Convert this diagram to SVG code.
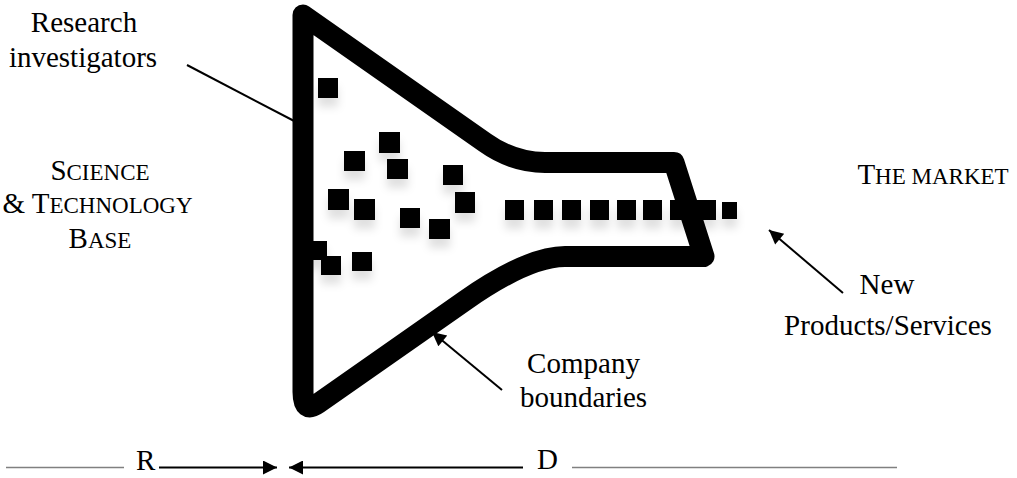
<svg xmlns="http://www.w3.org/2000/svg" width="1017" height="478" viewBox="0 0 1017 478">
<style>
.t{font-family:"Liberation Serif","Times New Roman",serif;font-size:29px;fill:#000}
.sc{font-size:23px}
.ln{stroke:#000;stroke-width:2;fill:none}
.gr{stroke:#808080;stroke-width:1.5;fill:none}
.fun{stroke:#000;stroke-width:21;fill:none;stroke-linejoin:round}
.sq{fill:#000}
</style>
<defs>
<marker id="ah" viewBox="0 0 10 10" refX="10" refY="5" markerUnits="userSpaceOnUse" markerWidth="16" markerHeight="14" orient="auto">
<path d="M0,0 L10,5 L0,10 z" fill="#000"/>
</marker>
<filter id="sh" x="-50%" y="-50%" width="200%" height="250%">
<feDropShadow dx="0" dy="9" stdDeviation="4" flood-color="#000" flood-opacity="0.12"/>
</filter>
</defs>
<g id="connectors">
<line class="ln" x1="187" y1="65" x2="298" y2="123"/>
<line class="ln" x1="502" y1="390" x2="432" y2="332" marker-end="url(#ah)"/>
<line class="ln" x1="843" y1="293" x2="769" y2="230" marker-end="url(#ah)"/>
<line class="ln" x1="159" y1="467.5" x2="277" y2="467.5" marker-end="url(#ah)"/>
<line class="ln" x1="523" y1="467.5" x2="289" y2="467.5" marker-end="url(#ah)"/>
<line class="gr" x1="6" y1="467.5" x2="124" y2="467.5"/>
<line class="gr" x1="572" y1="467.5" x2="897" y2="467.5"/>
</g>
<g id="funnel">
<path class="fun" d="M303,15 L485,142.5 Q513,162.5 545,162.5 L674,162.5 L704,256.5 L565,256.5 Q528,256.5 465,300.6 L318,403.5 Q303,414 303,392 Z"/>
</g>
<g id="squares" filter="url(#sh)">
<rect class="sq" x="318" y="78" width="20" height="20"/>
<rect class="sq" x="379" y="132" width="21" height="21"/>
<rect class="sq" x="344" y="151" width="21" height="20"/>
<rect class="sq" x="387" y="159" width="21" height="20"/>
<rect class="sq" x="443" y="165" width="20" height="20"/>
<rect class="sq" x="328" y="189" width="21" height="21"/>
<rect class="sq" x="354" y="199" width="21" height="21"/>
<rect class="sq" x="455" y="192" width="20" height="21"/>
<rect class="sq" x="400" y="208" width="20" height="20"/>
<rect class="sq" x="429" y="219" width="21" height="20"/>
<rect class="sq" x="307" y="241" width="20" height="19"/>
<rect class="sq" x="321" y="256" width="20" height="19"/>
<rect class="sq" x="352" y="252" width="20" height="19"/>
<rect class="sq" x="505" y="200" width="19" height="20"/>
<rect class="sq" x="534" y="200" width="19" height="20"/>
<rect class="sq" x="562" y="200" width="19" height="20"/>
<rect class="sq" x="590" y="200" width="19" height="20"/>
<rect class="sq" x="617" y="200" width="19" height="20"/>
<rect class="sq" x="643" y="200" width="19" height="20"/>
<rect class="sq" x="670" y="200" width="19" height="20"/>
<rect class="sq" x="697" y="200" width="19" height="20"/>
<rect class="sq" x="722" y="202" width="15" height="17"/>
</g>
<g id="research-investigators">
<text class="t" x="84" y="32" text-anchor="middle">Research</text>
<text class="t" x="83" y="67" text-anchor="middle">investigators</text>
</g>
<g id="science-technology-base">
<text class="t" x="100" y="180" text-anchor="middle">S<tspan class="sc">CIENCE</tspan></text>
<text class="t" x="97.5" y="213" text-anchor="middle">&amp; T<tspan class="sc">ECHNOLOGY</tspan></text>
<text class="t" x="100" y="248" text-anchor="middle">B<tspan class="sc">ASE</tspan></text>
</g>
<g id="the-market">
<text class="t" x="933" y="184" text-anchor="middle">T<tspan class="sc">HE MARKET</tspan></text>
</g>
<g id="new-products">
<text class="t" x="887" y="294" text-anchor="middle">New</text>
<text class="t" x="888" y="335" text-anchor="middle">Products/Services</text>
</g>
<g id="company-boundaries">
<text class="t" x="583.5" y="373" text-anchor="middle">Company</text>
<text class="t" x="583.5" y="407" text-anchor="middle">boundaries</text>
</g>
<g id="rd-labels">
<text class="t" x="136" y="470">R</text>
<text class="t" x="537" y="469">D</text>
</g>
</svg>
